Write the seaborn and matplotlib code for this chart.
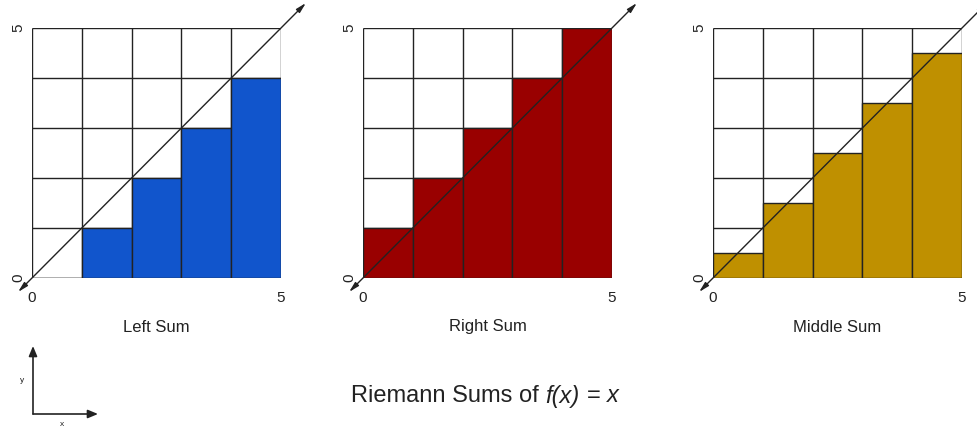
import matplotlib
matplotlib.use("Agg")
import matplotlib.pyplot as plt
from matplotlib.patches import FancyArrowPatch
from matplotlib.offsetbox import TextArea, HPacker, AnchoredOffsetbox
import seaborn as sns

# Riemann sums of f(x) = x on [0, 5] with five unit subintervals
edges = [0, 1, 2, 3, 4, 5]
centers = [0.5, 1.5, 2.5, 3.5, 4.5]
left_heights = [0, 1, 2, 3, 4]
right_heights = [1, 2, 3, 4, 5]
middle_heights = [0.5, 1.5, 2.5, 3.5, 4.5]
panel_titles = ["Left Sum", "Right Sum", "Middle Sum"]
panel_colors = ["#1155cc", "#990000", "#bf9000"]
tick_labels = ["0", "5"]
line_start, line_end = -0.28, 5.5

sns.set_style("white")
plt.rcParams["font.family"] = ["Liberation Sans", "DejaVu Sans"]

W, H = 978, 429
fig = plt.figure(figsize=(W / 100, H / 100), dpi=100)
text_color = "#222222"

panel_left_px = [32, 363, 713]
box_w, box_h = 249, 250
box_top = 28

for heights, title, color, x0 in zip(
    [left_heights, right_heights, middle_heights], panel_titles, panel_colors, panel_left_px
):
    ax = fig.add_axes([x0 / W, (H - box_top - box_h) / H, box_w / W, box_h / H])
    # unit grid behind the bars
    ax.vlines(edges, 0, 5, colors=text_color, linewidth=1.0, zorder=0.5)
    ax.hlines(edges, 0, 5, colors=text_color, linewidth=1.0, zorder=0.5)
    sns.barplot(
        x=centers, y=heights, native_scale=True, width=1, color=color,
        saturation=1, edgecolor=text_color, linewidth=1.0, ax=ax, zorder=1,
    )
    # the line y = x, with arrowheads at both ends
    ax.annotate(
        "", xy=(line_end, line_end), xytext=(line_start, line_start),
        xycoords="data", annotation_clip=False,
        arrowprops=dict(arrowstyle="<|-|>,head_length=0.6,head_width=0.15",
                        color=text_color, lw=1.0, shrinkA=0, shrinkB=0),
        zorder=3,
    )
    ax.set_xlim(0, 5)
    ax.set_ylim(0, 5)
    for s in ax.spines.values():
        s.set_visible(False)
    ax.set_xticks([0, 5])
    ax.set_xticklabels(tick_labels, fontsize=11, color=text_color)
    ax.set_yticks([0, 5])
    ax.set_yticklabels(tick_labels, fontsize=11, color=text_color,
                       rotation=90, va="center")
    ax.tick_params(axis="x", length=0, pad=9)
    ax.tick_params(axis="y", length=0, pad=5)
    ax.set_xlabel("")
    ax.set_ylabel("")
    ax.text(2.5, -0.98, title, ha="center", va="center", fontsize=12,
            color=text_color)

# small orientation key in the lower-left corner
arrow_kw = dict(arrowstyle="-|>,head_length=0.6,head_width=0.25",
                color=text_color, lw=1.2, shrinkA=0, shrinkB=0,
                mutation_scale=10, transform=None)
fig.add_artist(FancyArrowPatch((33, H - 414), (33, H - 346), **arrow_kw))
fig.add_artist(FancyArrowPatch((33, H - 414), (98, H - 414), **arrow_kw))
fig.text(22 / W, (H - 381) / H, "y", ha="center", va="center", fontsize=6,
         color=text_color)
fig.text(62 / W, (H - 424) / H, "x", ha="center", va="center", fontsize=6,
         color=text_color)

# overall title with the function written in italics
plain = dict(fontsize=17, color=text_color)
ital = dict(fontsize=17, color=text_color, fontstyle="italic")
title_box = HPacker(
    children=[TextArea("Riemann Sums of", textprops=plain),
              TextArea("f(x)", textprops=ital),
              TextArea("=", textprops=plain),
              TextArea("x", textprops=ital)],
    align="baseline", pad=0, sep=5,
)
anchored = AnchoredOffsetbox(
    loc="center", child=title_box, frameon=False, pad=0, borderpad=0,
    bbox_to_anchor=(485 / W, (H - 396) / H), bbox_transform=fig.transFigure,
)
fig.add_artist(anchored)

fig.savefig("out.png", dpi=100)
